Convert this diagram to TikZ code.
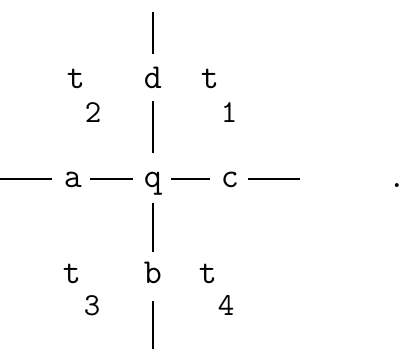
\documentclass[tikz,border=0pt]{standalone}
\usepackage{fontspec}
\usetikzlibrary{positioning}

\begin{document}
\begin{tikzpicture}[
    x=1pt,
    y=-1pt,
    every node/.style={
        font=\fontsize{35}{40}\selectfont\ttfamily,
        inner sep=0pt,
        anchor=base
    },
    letter/.style={
        text height=22pt,
        text depth=6pt
    },
    index/.style={
        font=\fontsize{32}{36}\selectfont\ttfamily
    },
    line/.style={
        line width=1.8pt
    }
]
\useasboundingbox (0,0) rectangle (407,349);

% the crossing
\node[letter] (d) at (153,88) {d};
\node[letter] (a) at (73,187) {a};
\node[letter] (q) at (153,187) {q};
\node[letter] (c) at (230,187) {c};
\node[letter] (b) at (153,283) {b};
\node (dot) at (397,187) {.};

% the four t's
\node[letter] (t2) at (76,88) {t};
\node[index] (n2) at (93,122) {2};
\node[letter] (t1) at (210,88) {t};
\node[index] (n1) at (229,122) {1};
\node[letter] (t3) at (72,283) {t};
\node[index] (n3) at (92,315) {3};
\node[letter] (t4) at (208,283) {t};
\node[index] (n4) at (226,315) {4};

% free ends
\coordinate (top) at (153,12);
\coordinate (bottom) at (153,349);
\coordinate (left) at (0,179);
\coordinate (right) at (300,179);

\draw[line, shorten >=12pt] (top) -- (d);
\draw[line, shorten <=7pt, shorten >=12pt] (d) -- (q);
\draw[line, shorten <=10pt, shorten >=9pt] (q) -- (b);
\draw[line, shorten <=12pt] (b) -- (bottom);

\draw[line, shorten >=12pt] (left) -- (a);
\draw[line, shorten <=8pt, shorten >=11pt] (a) -- (q);
\draw[line, shorten <=9pt, shorten >=11pt] (q) -- (c);
\draw[line, shorten <=9pt] (c) -- (right);

\end{tikzpicture}
\end{document}
